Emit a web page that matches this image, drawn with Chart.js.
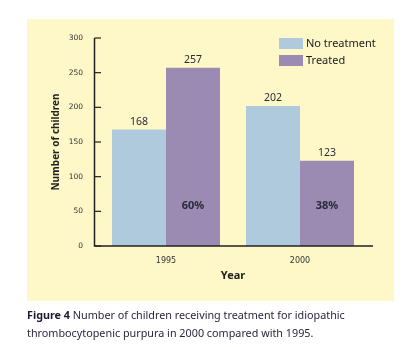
<!DOCTYPE html>
<html>
<head>
<meta charset="utf-8">
<script src="https://cdn.jsdelivr.net/npm/chart.js@4/dist/chart.umd.min.js"></script>
<style>
  html, body { margin: 0; padding: 0; background: #ffffff; }
  #wrap { position: relative; width: 416px; height: 347px; overflow: hidden; }
  #c { position: absolute; left: 0; top: 0; }
  #caption {
    position: absolute; left: 27px; top: 306px;
    font-family: 'Noto Sans', sans-serif; font-size: 10.8px; line-height: 18px;
    color: #2d2540; white-space: nowrap;
  }
  #caption b { color: #1c1a33; }
</style>
</head>
<body>
<div id="wrap">
  <canvas id="c" width="416" height="347"></canvas>
  <div id="caption"><b>Figure 4</b> Number of children receiving treatment for idiopathic<br>thrombocytopenic purpura in 2000 compared with 1995.</div>
</div>
<script>
// Children treated for ITP, by year
const years = ['1995', '2000'];
const noTreatment = [168, 202];
const treated = [257, 123];
const yTicks = [0, 50, 100, 150, 200, 250, 300];

const PANEL = '#fef7c7';
const BLUE = '#afc9dd';
const PURPLE = '#9b8ab1';
const INK = '#222222';

// Cream panel behind the plot
const panelPlugin = {
  id: 'panel',
  beforeDraw(chart) {
    const ctx = chart.ctx;
    ctx.save();
    ctx.fillStyle = PANEL;
    ctx.fillRect(27, 19, 367, 282);
    ctx.restore();
  }
};

// Axis lines with inward tick marks
const axesPlugin = {
  id: 'axesLines',
  afterDatasetsDraw(chart) {
    const {ctx, chartArea, scales} = chart;
    const x0 = chartArea.left - 4.5;
    const yBottom = scales.y.getPixelForValue(0);
    const yTop = scales.y.getPixelForValue(300);
    ctx.save();
    ctx.strokeStyle = INK;
    ctx.lineWidth = 1.5;
    ctx.beginPath();
    ctx.moveTo(x0, yTop);
    ctx.lineTo(x0, yBottom);
    ctx.lineTo(chartArea.right + 6, yBottom);
    ctx.stroke();
    ctx.lineWidth = 1.2;
    yTicks.forEach(v => {
      const py = scales.y.getPixelForValue(v);
      ctx.beginPath();
      ctx.moveTo(x0, py);
      ctx.lineTo(x0 + 6.5, py);
      ctx.stroke();
    });
    ctx.restore();
  }
};

// Values above bars and treated share inside the purple bars
const labelsPlugin = {
  id: 'barLabels',
  afterDatasetsDraw(chart) {
    const ctx = chart.ctx;
    ctx.save();
    ctx.textAlign = 'center';
    ctx.textBaseline = 'middle';
    chart.data.datasets.forEach((ds, di) => {
      const meta = chart.getDatasetMeta(di);
      meta.data.forEach((bar, i) => {
        ctx.fillStyle = '#2a2a3a';
        ctx.font = '10.5px "Noto Sans", sans-serif';
        ctx.fillText(String(ds.data[i]), bar.x, bar.y - 8);
      });
    });
    const tMeta = chart.getDatasetMeta(1);
    tMeta.data.forEach((bar, i) => {
      const pct = Math.round(treated[i] / (treated[i] + noTreatment[i]) * 100);
      ctx.fillStyle = '#2a2a3a';
      ctx.font = 'bold 11px "Noto Sans", sans-serif';
      ctx.fillText(pct + '%', bar.x, chart.chartArea.bottom - 40);
    });
    ctx.restore();
  }
};

// Legend boxes in the upper right of the plot
const legendPlugin = {
  id: 'cornerLegend',
  afterDraw(chart) {
    const ctx = chart.ctx;
    const bx = chart.chartArea.right - 88;
    ctx.save();
    ctx.textAlign = 'left';
    ctx.textBaseline = 'middle';
    ctx.font = '11px "Noto Sans", sans-serif';
    chart.data.datasets.forEach((ds, i) => {
      const top = 38 + i * 17;
      ctx.fillStyle = ds.backgroundColor;
      ctx.fillRect(bx, top, 24, 11);
      ctx.fillStyle = INK;
      ctx.fillText(ds.label, bx + 27, top + 5.5);
    });
    ctx.restore();
  }
};

new Chart(document.getElementById('c'), {
  type: 'bar',
  data: {
    labels: years,
    datasets: [
      { label: 'No treatment', data: noTreatment, backgroundColor: BLUE },
      { label: 'Treated', data: treated, backgroundColor: PURPLE }
    ]
  },
  options: {
    responsive: false,
    animation: false,
    devicePixelRatio: 1,
    layout: { padding: { left: 39, right: 49, top: 38, bottom: 61 } },
    datasets: { bar: { barPercentage: 1.0, categoryPercentage: 0.806 } },
    plugins: { legend: { display: false }, tooltip: { enabled: false } },
    scales: {
      x: {
        offset: true,
        grid: { display: false },
        border: { display: false },
        ticks: {
          color: '#333333',
          padding: 2,
          font: { family: '"DejaVu Sans", sans-serif', size: 8 }
        },
        title: {
          display: true, text: 'Year', color: INK,
          font: { family: '"Noto Sans", sans-serif', size: 11, weight: 'bold' },
          padding: { top: 0, bottom: 3.5 }
        },
        afterFit(scale) { scale.height = 40; }
      },
      y: {
        min: 0, max: 300,
        grid: { display: false },
        border: { display: false },
        afterBuildTicks(scale) { scale.ticks = yTicks.map(v => ({ value: v })); },
        ticks: {
          color: '#333333',
          padding: 8,
          font: { family: '"DejaVu Sans", sans-serif', size: 7.5 }
        },
        title: {
          display: true, text: 'Number of children', color: INK,
          font: { family: '"Noto Sans", sans-serif', size: 10, weight: 'bold', lineHeight: 1.2 },
          padding: { top: 11, bottom: 0 }
        },
        afterFit(scale) { scale.width = 60; }
      }
    }
  },
  plugins: [panelPlugin, axesPlugin, labelsPlugin, legendPlugin]
});
</script>
</body>
</html>
